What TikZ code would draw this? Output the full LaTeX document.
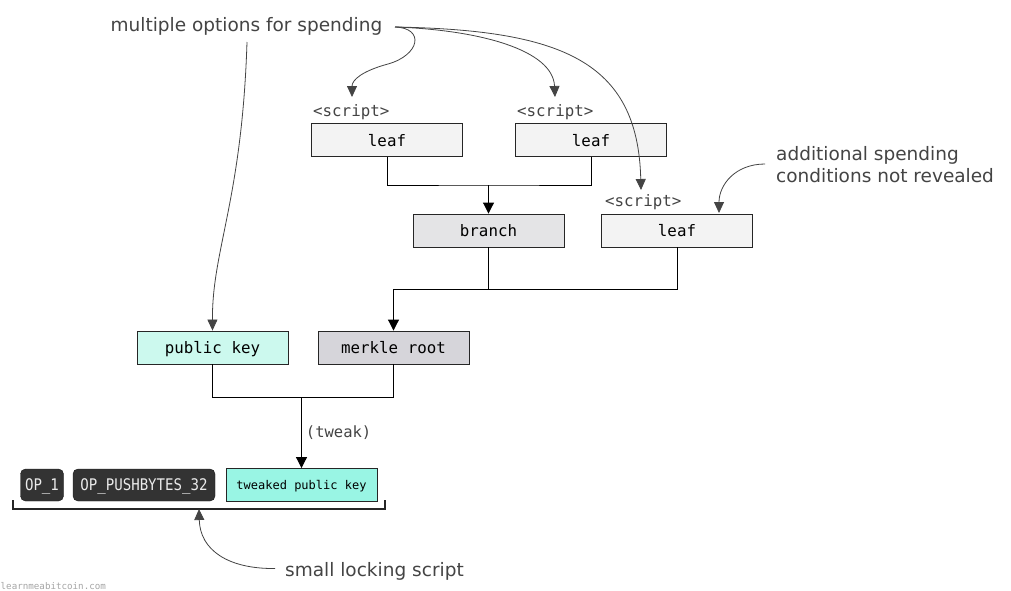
\documentclass[tikz,border=0pt]{standalone}
\usepackage{fontspec}
\setmainfont{DejaVu Sans}
\setmonofont{DejaVu Sans Mono}
\newfontfamily\opfont{DejaVu Sans Mono}[FakeStretch=0.88]
\usetikzlibrary{arrows.meta,positioning}

\definecolor{leafgray}{HTML}{F3F3F3}
\definecolor{branchgray}{HTML}{E4E4E6}
\definecolor{rootgray}{HTML}{D6D5DA}
\definecolor{pubcyan}{HTML}{CCF9EE}
\definecolor{tweakcyan}{HTML}{99F5E4}
\definecolor{opdark}{HTML}{333333}
\definecolor{notegray}{HTML}{444444}

\tikzset{
  box/.style={draw=black!85,line width=0.9pt,minimum width=151pt,minimum height=33pt,inner sep=0pt,
    text height=13pt,text depth=1pt,font=\ttfamily\fontsize{15.8}{18}\selectfont},
  leafbox/.style={box,fill=leafgray},
  branchbox/.style={box,fill=branchgray},
  rootbox/.style={box,fill=rootgray},
  pubbox/.style={box,fill=pubcyan},
  tweakbox/.style={box,fill=tweakcyan,text height=9.5pt,text depth=1.5pt,font=\ttfamily\fontsize{12}{14}\selectfont},
  opbox/.style={draw=black!90,fill=opdark,rounded corners=5pt,minimum height=32pt,inner sep=0pt,
    text height=12.5pt,text depth=2.5pt,text=white!92!black,font=\opfont\fontsize{16}{18}\selectfont},
  scriptlabel/.style={anchor=base west,inner sep=0pt,text=notegray,font=\ttfamily\fontsize{15.8}{18}\selectfont},
  note/.style={inner sep=0pt,text=notegray,font=\fontsize{18.5}{22}\selectfont},
  notearrow/.style={draw=notegray,line width=0.8pt,-{Triangle[width=10pt,length=11pt]}},
  link/.style={draw=black,line width=0.95pt},
}

\begin{document}
\begin{tikzpicture}[x=1pt,y=-1pt,>={Triangle[width=11pt,length=11pt]}]
                \useasboundingbox[fill=white](0,0)rectangle(1011,590);
                % tree
                \node[leafbox](leafA)at(387,140){leaf};
                \node[leafbox](leafB)at(591,140){leaf};
                \node[branchbox](branch)at(488.5,230.5){branch};
                \node[leafbox](leafC)at(677,230.5){leaf};
                \node[pubbox](pubkey)at(212.5,347.5){public key};
                \node[rootbox](root)at(393.5,347.5){merkle root};
                % locking script
                \node[tweakbox](tweaked)at(301.5,485){tweaked public key};
                \node[opbox,minimum width=43pt](op1)at(42,485){OP\_1};
                \node[opbox,minimum width=142pt](push)at(144,485){OP\_PUSHBYTES\_32};
                % script labels
                \node[scriptlabel](scriptA)at(313,116){<script>};
                \node[scriptlabel](scriptB)at(517,116){<script>};
                \node[scriptlabel](scriptC)at(605,206.5){<script>};
                % notes
                \node[note,anchor=base west](multi)at(110.5,31.5){multiple options for spending};
                \node[note,anchor=base west](addlA)at(776,160.5){additional spending};
                \node[note,anchor=base west](addlB)at(776,182.5){conditions not revealed};
                \node[note,anchor=base west](small)at(285,576){small locking script};
                \node[anchor=base west,inner sep=0pt,text=black!35,font=\ttfamily\fontsize{9.2}{10}\selectfont](credit)at(0.5,589){learnmeabitcoin.com};
                % joints
                \coordinate(j1)at(488.5,185);
                \coordinate(j2)at(393.5,289);
                \coordinate(j3)at(301.5,397);
                \draw[link](leafA.south)|-(j1)-|(leafB.south);
                \draw[link,->](j1)--(branch.north);
                \draw[link](j2)-|(branch.south);
                \draw[link](j2)-|(leafC.south);
                \draw[link,->](j2)--(root.north);
                \draw[link](pubkey.south)|-(j3)-|(root.south);
                \draw[link,->](j3)--node[right,inner sep=4pt,text=notegray,font=\ttfamily\fontsize{15.5}{18}\selectfont]{(tweak)}(tweaked.north);
                % bracket
                \coordinate(bl)at(13,500);
                \coordinate(br)at(385,500);
                \draw[black!85,line width=1.6pt](bl)--++(0,9)-|(br);
                % note arrows
                \coordinate(m0)at(247,42);
                \coordinate(m1)at(395,27);
                \coordinate(a0)at(765,164);
                \coordinate(s0)at(275,568.5);
                \draw[notearrow](m0)..controls(242,200)and(212,250)..(pubkey.north);
                \draw[notearrow](m1)..controls(425,28)and(420,55)..(388,64)..controls(362,71)and(352,80)..(352,97);
                \draw[notearrow](m1)..controls(480,30)and(553,50)..(555,97);
                \draw[notearrow](m1)..controls(560,30)and(638,60)..(641,190);
                \draw[notearrow](a0)..controls(735,164)and(719,185)..(719,213);
                \draw[notearrow](s0)..controls(228,569)and(200,550)..(199,509);
            \end{tikzpicture}
\end{document}
